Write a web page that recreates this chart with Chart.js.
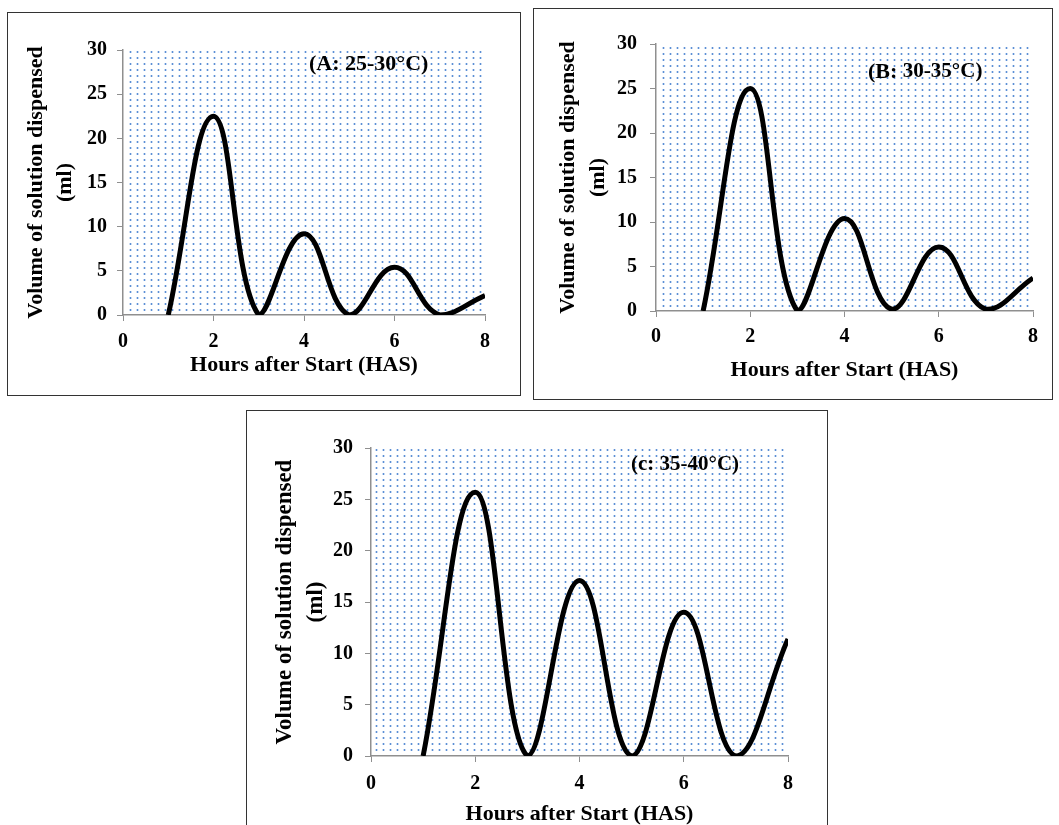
<!DOCTYPE html>
<html>
<head>
<meta charset="utf-8">
<script src="https://cdn.jsdelivr.net/npm/chart.js@4.4.0/dist/chart.umd.min.js"></script>
<style>
  html, body { margin: 0; padding: 0; background: #fff; overflow: hidden; }
  body { width: 1059px; height: 825px; position: relative; }
  .panel { position: absolute; box-sizing: border-box; border: 1.5px solid #333; }
  .panel canvas { position: absolute; left: 0; top: 0; }
</style>
</head>
<body>

<div class="panel" id="boxA" style="left:7px; top:12px; width:514px; height:384px;"><canvas id="chartA" width="514" height="384"></canvas></div>
<div class="panel" id="boxB" style="left:533px; top:8px; width:520px; height:392px;"><canvas id="chartB" width="520" height="392"></canvas></div>
<div class="panel" id="boxC" style="left:246px; top:410px; width:582px; height:430px;"><canvas id="chartC" width="582" height="430"></canvas></div>

<script>
// data
const hours = [1, 2, 3, 4, 5, 6, 7, 8];
const volumeA = [0, 22.5, 0, 9.2, 0, 5.4, 0, 2.2];
const volumeB = [0, 25, 0, 10.4, 0.2, 7.2, 0.2, 3.7];
const volumeC = [0, 25.7, 0, 17.1, 0, 14, 0, 11.4];

const xRange = [0, 8];
const xStep = 2;
const yRange = [0, 30];
const yStep = 5;

const xTitle = 'Hours after Start (HAS)';
const yTitle = ['Volume of solution dispensed', '(ml)'];

const labelA = [['(A: 25-30°C)', 22]];
const labelB = [['(B: ', 22], ['30-35°C)', 21]];
const labelC = [['(c: 35-40°C)', 21]];

const FONT = "'Liberation Serif', 'Times New Roman', serif";
const AXIS_GREY = '#8f8f8f';

// dotted fill of the plot area
function dotPattern(ctx) {
  const tile = document.createElement('canvas');
  tile.width = 7;
  tile.height = 6;
  const t = tile.getContext('2d');
  t.fillStyle = '#4f86d2';
  t.beginPath();
  t.arc(3.5, 3, 1.0, 0, Math.PI * 2);
  t.fill();
  return ctx.createPattern(tile, 'repeat');
}

const dottedArea = {
  id: 'dottedArea',
  beforeDraw(chart) {
    const { ctx, chartArea: a } = chart;
    ctx.save();
    ctx.fillStyle = dotPattern(ctx);
    ctx.fillRect(a.left + 2, a.top, a.right - a.left - 2, a.bottom - a.top - 2);
    ctx.restore();
  }
};

const panelLabel = {
  id: 'panelLabel',
  afterDatasetsDraw(chart, args, opts) {
    const ctx = chart.ctx;
    let x = opts.x;
    ctx.save();
    ctx.fillStyle = '#000';
    ctx.textBaseline = 'middle';
    ctx.textAlign = 'left';
    opts.parts.forEach(([text, size]) => {
      ctx.font = 'bold ' + size + 'px ' + FONT;
      ctx.fillText(text, x, opts.y);
      x += ctx.measureText(text).width;
    });
    ctx.restore();
  }
};

function makeChart(id, values, label, p) {
  const points = hours.map((h, i) => ({ x: h, y: values[i] }));
  return new Chart(document.getElementById(id), {
    type: 'line',
    data: {
      datasets: [{
        data: points,
        borderColor: '#000',
        borderWidth: 5,
        pointRadius: 0,
        tension: 0.42,
        clip: 0,
        fill: false
      }]
    },
    options: {
      responsive: false,
      animation: false,
      events: [],
      layout: { padding: p.pad },
      plugins: {
        legend: { display: false },
        tooltip: { enabled: false },
        panelLabel: { x: p.labelX, y: p.labelY, parts: label }
      },
      scales: {
        x: {
          type: 'linear',
          min: xRange[0],
          max: xRange[1],
          afterFit: s => { s.height = p.xHeight; },
          ticks: {
            stepSize: xStep,
            color: '#000',
            padding: p.xTickPad,
            maxRotation: 0,
            font: { family: FONT, size: 20, weight: 'bold', lineHeight: 1.2 }
          },
          grid: { drawOnChartArea: false, tickLength: 6, color: AXIS_GREY },
          border: { color: AXIS_GREY, width: 1.5 },
          title: {
            display: true,
            text: xTitle,
            color: '#000',
            padding: 0,
            font: { family: FONT, size: 22, weight: 'bold', lineHeight: 1.2 }
          }
        },
        y: {
          min: yRange[0],
          max: yRange[1],
          afterFit: s => { s.width = p.yWidth; },
          ticks: {
            stepSize: yStep,
            color: '#000',
            padding: p.yTickPad,
            font: { family: FONT, size: 20, weight: 'bold' }
          },
          grid: { drawOnChartArea: false, tickLength: 6, color: AXIS_GREY },
          border: { color: AXIS_GREY, width: 1.5 },
          title: {
            display: true,
            text: yTitle,
            color: '#000',
            padding: 0,
            font: { family: FONT, size: p.yTitleSize, weight: 'bold', lineHeight: p.yTitleLine + 'px' }
          }
        }
      }
    },
    plugins: [dottedArea, panelLabel]
  });
}

makeChart('chartA', volumeA, labelA, {
  pad: { left: 14, top: 37, right: 37, bottom: 18.8 },
  yWidth: 101, xHeight: 63.2, yTickPad: 10, xTickPad: 9,
  yTitleSize: 22, yTitleLine: 29,
  labelX: 301, labelY: 51
});

makeChart('chartB', volumeB, labelB, {
  pad: { left: 19, top: 35, right: 21, bottom: 17.8 },
  yWidth: 103, xHeight: 72.2, yTickPad: 13, xTickPad: 8,
  yTitleSize: 22, yTitleLine: 30,
  labelX: 334, labelY: 63
});

makeChart('chartC', volumeC, labelC, {
  pad: { left: 22.5, top: 37, right: 41, bottom: 13.8 },
  yWidth: 101.5, xHeight: 71.2, yTickPad: 12, xTickPad: 10,
  yTitleSize: 23, yTitleLine: 31,
  labelX: 384, labelY: 54
});
</script>
</body>
</html>
